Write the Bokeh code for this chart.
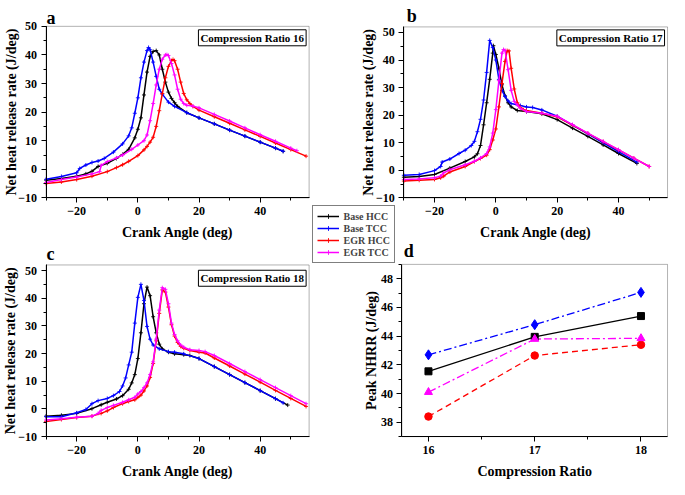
import math
from bokeh.plotting import figure
from bokeh.models import (Range1d, LinearAxis, SingleIntervalTicker, FixedTicker,
                          BoxAnnotation, Label, Legend, LegendItem)
from bokeh.embed import file_html
from bokeh.resources import INLINE

# ---------------- data ----------------
series_names = ["Base HCC", "Base TCC", "EGR HCC", "EGR TCC"]

# Panel a : Compression Ratio 16
a_bh_x = [-30, -25, -20, -17, -15, -13, -10, -7, -5, -3, -1, 0, 1, 2, 3, 4, 5, 6, 7, 8, 9, 10, 11, 12, 13, 16, 20, 25, 30, 35, 40, 45, 47.5]
a_bh_y = [-3.8, -3.2, -2.4, -1.6, -0.7, 1.0, 2.1, 3.8, 5.2, 7.0, 11.0, 14.0, 18.0, 26.0, 34.0, 39.5, 41.2, 41.5, 40.0, 35.0, 30.5, 27.0, 24.8, 23.3, 22.0, 19.8, 18.0, 15.9, 13.7, 11.6, 9.5, 7.4, 6.3]
a_bt_x = [-30, -25, -20, -19, -17, -15, -13, -11, -8, -5, -3, -2, -1, 0, 1, 2, 3, 3.5, 4, 5, 6, 7, 8, 10, 12, 16, 20, 25, 30, 35, 40, 45, 47.5]
a_bt_y = [-3.5, -2.5, -1.2, 0.3, 1.5, 2.4, 2.9, 3.8, 6.0, 8.9, 11.7, 14.5, 19.6, 25.0, 32.0, 37.5, 41.5, 42.6, 41.8, 37.5, 32.5, 28.0, 26.3, 23.5, 22.0, 19.8, 18.0, 15.9, 13.7, 11.6, 9.5, 7.4, 6.3]
a_eh_x = [-30, -25, -20, -15, -10, -7, -5, -3, 0, 2, 3, 4, 5, 6, 7, 8, 9, 10, 11, 11.5, 12, 13, 14, 15, 16, 17, 18, 20, 25, 30, 35, 40, 45, 50, 55]
a_eh_y = [-5.0, -4.4, -3.6, -2.4, -0.8, 0.6, 1.6, 2.8, 4.8, 6.8, 8.0, 9.5, 11.2, 15.0, 20.5, 26.5, 32.0, 36.0, 38.0, 38.4, 38.0, 35.0, 30.5, 26.5, 24.3, 23.0, 22.0, 20.7, 18.4, 16.1, 13.8, 11.5, 9.2, 6.9, 4.6]
a_et_x = [-30, -25, -20, -15, -12.5, -12, -10, -7, -5, -2, 0, 2, 3, 4, 5, 6, 7, 8, 9, 9.5, 10, 11, 12, 13, 14, 15, 16, 18, 20, 25, 30, 35, 40, 45, 50, 52]
a_et_y = [-4.6, -3.6, -2.7, -1.6, -0.8, 1.4, 2.7, 4.0, 5.0, 7.0, 8.5, 10.0, 12.0, 17.0, 23.0, 29.5, 35.0, 38.5, 40.0, 40.1, 39.8, 37.0, 33.0, 28.0, 24.5, 23.0, 22.4, 22.1, 21.5, 19.2, 16.9, 14.5, 12.1, 9.8, 7.4, 6.5]

# Panel b : Compression Ratio 17
b_bh_x = [-30, -25, -20, -15, -10, -7, -6, -5, -4, -3, -2, -1, -0.8, 0, 1, 2, 3, 4, 5, 7, 10, 15, 20, 25, 30, 35, 40, 46]
b_bh_y = [-2.5, -2.2, -1.5, 0.8, 3.2, 4.9, 6.0, 9.0, 16.5, 24.5, 33.0, 42.5, 45.2, 42.0, 37.0, 31.0, 27.0, 24.5, 23.0, 21.7, 21.3, 20.5, 18.4, 15.3, 12.3, 9.2, 6.1, 2.5]
b_bt_x = [-30, -25, -20, -18, -17.5, -15, -12, -10, -8, -7, -6, -5, -4, -3, -2, -1, 0, 1, 2, 3, 4, 5, 8, 10, 12, 15, 20, 25, 30, 35, 40, 46]
b_bt_y = [-1.8, -1.5, -0.1, 1.4, 3.0, 4.1, 6.1, 7.3, 9.0, 10.5, 14.0, 18.5, 25.5, 35.5, 47.1, 44.5, 40.0, 33.0, 29.0, 26.8, 25.2, 24.2, 23.5, 23.0, 22.8, 21.9, 19.6, 16.4, 13.2, 10.0, 6.8, 3.0]
b_eh_x = [-30, -25, -20, -18, -17, -15, -10, -7, -5, -3, -2, -1, 0, 1, 2, 3, 3.7, 4.3, 5, 6, 7, 8, 9, 10, 15, 20, 25, 30, 35, 40, 45, 50]
b_eh_y = [-3.9, -3.6, -3.3, -2.7, -2.1, -0.6, 1.4, 3.2, 4.3, 5.5, 7.5, 11.0, 15.0, 23.0, 31.5, 39.5, 43.4, 43.3, 37.0, 29.5, 24.5, 22.8, 22.0, 21.7, 20.7, 19.4, 16.4, 13.4, 10.4, 7.4, 4.4, 1.4]
b_et_x = [-30, -25, -20, -18, -17, -15, -10, -7, -5, -3, -2, -1, 0, 1, 2, 2.5, 3, 4, 5, 6, 7, 8, 10, 15, 20, 25, 30, 35, 40, 45, 50]
b_et_y = [-3.3, -3.1, -2.7, -2.1, -0.9, 0.2, 2.0, 3.3, 4.5, 6.1, 8.5, 13.5, 22.0, 32.5, 42.5, 43.8, 43.5, 36.5, 29.0, 25.0, 23.7, 22.5, 21.3, 20.7, 19.6, 16.6, 13.5, 10.5, 7.5, 4.4, 1.4]

# Panel c : Compression Ratio 18
c_bh_x = [-30, -25, -20, -15, -12, -10, -7, -5, -3, -2, -1, 0, 1, 2, 3, 4, 5, 6, 7, 8, 10, 12, 15, 17, 20, 25, 30, 35, 40, 45, 49]
c_bh_y = [-2.6, -2.3, -1.6, 0.1, 1.5, 2.4, 3.6, 4.8, 7.1, 9.4, 12.4, 18.2, 27.5, 38.0, 44.0, 40.9, 33.3, 27.5, 23.4, 21.7, 20.5, 19.9, 19.6, 19.3, 18.2, 15.3, 12.4, 9.5, 6.6, 3.7, 1.4]
c_bt_x = [-30, -25, -20, -17, -15, -13, -10, -8, -6, -5, -4, -3, -2, -1, 0, 1, 2, 3, 4, 5, 7, 10, 12, 15, 20, 25, 30, 35, 40, 45, 47.5]
c_bt_y = [-2.8, -2.8, -1.4, -0.2, 1.9, 3.0, 3.8, 4.8, 6.3, 8.3, 11.2, 15.9, 20.5, 31.0, 40.3, 45.0, 39.2, 29.8, 25.2, 23.1, 21.7, 20.7, 20.5, 19.9, 18.2, 15.3, 12.4, 9.5, 6.6, 3.7, 2.2]
c_eh_x = [-30, -25, -20, -15, -12, -10, -8, -5, -3, -1, 0, 1, 2, 3, 4, 5, 6, 7, 8, 9, 10, 11, 12, 13, 14, 15, 17, 20, 22, 25, 30, 35, 40, 45, 50, 55]
c_eh_y = [-4.5, -3.8, -3.1, -2.6, -1.6, -0.7, 0.5, 1.9, 2.7, 3.3, 4.2, 5.0, 6.5, 8.3, 11.4, 16.4, 24.6, 34.5, 43.0, 42.2, 36.8, 30.4, 26.3, 24.0, 22.6, 21.9, 21.1, 20.5, 20.2, 18.4, 15.5, 12.6, 9.7, 6.7, 3.8, 0.9]
c_et_x = [-30, -25, -20, -15, -13, -12, -10, -8, -5, -3, -1, 0, 1, 2, 3, 4, 5, 6, 7, 8, 9, 10, 11, 12, 13, 14, 15, 17, 20, 22, 25, 30, 35, 40, 45, 50, 55]
c_et_y = [-4.0, -3.5, -3.0, -2.6, -1.6, -0.5, 0.5, 1.3, 2.4, 3.3, 4.2, 5.4, 6.3, 7.7, 9.4, 12.4, 17.0, 25.2, 35.7, 43.8, 43.2, 38.0, 31.0, 26.9, 24.6, 23.1, 22.3, 21.4, 21.1, 20.7, 19.3, 16.4, 13.5, 10.6, 7.7, 4.8, 1.9]

# Panel d : peak NHRR vs compression ratio
cr = [16, 17, 18]
peak_base_hcc = [41.55, 43.95, 45.4]
peak_base_tcc = [42.7, 44.8, 47.05]
peak_egr_hcc = [38.4, 42.65, 43.4]
peak_egr_tcc = [40.1, 43.8, 43.85]

# ---------------- styling / layout ----------------
COLORS = ["#000000", "#0000ff", "#ff0000", "#ff00ff"]
FONT = "Liberation Serif"
W, H = 669, 479
KX, KY = W / 685.0, H / 495.0

p = figure(width=W, height=H, x_range=(0, 1), y_range=(0, 1),
           x_axis_type=None, y_axis_type=None, min_border=0, title=None,
           toolbar_location=None, output_backend="svg")
p.outline_line_color = None
p.background_fill_color = "white"
p.border_fill_color = "white"

panels = [
    dict(key="a", box=(46.7, 316.0, 26.7, 204.0), xlim=(-30, 56), ylim=(-10, 50),
         title="Compression Ratio 16", boff=1.5,
         curves=[(a_bh_x, a_bh_y), (a_bt_x, a_bt_y), (a_eh_x, a_eh_y), (a_et_x, a_et_y)],
         letter=(47, 18), ylab_x=11, xlab_y=240),
    dict(key="b", box=(413.0, 683.0, 27.3, 204.0), xlim=(-30, 56), ylim=(-10, 52),
         title="Compression Ratio 17", boff=1.0,
         curves=[(b_bh_x, b_bh_y), (b_bt_x, b_bt_y), (b_eh_x, b_eh_y), (b_et_x, b_et_y)],
         letter=(416, 16), ylab_x=377, xlab_y=240),
    dict(key="c", box=(46.7, 316.0, 273.3, 450.7), xlim=(-30, 56), ylim=(-10, 52),
         title="Compression Ratio 18", boff=3.4,
         curves=[(c_bh_x, c_bh_y), (c_bt_x, c_bt_y), (c_eh_x, c_eh_y), (c_et_x, c_et_y)],
         letter=(47, 262), ylab_x=10, xlab_y=487),
    dict(key="d", box=(411.0, 683.0, 272.7, 450.7), xlim=(15.75, 18.25), ylim=(37, 49),
         title=None, letter=(413, 259), ylab_x=380, xlab_y=487),
]

xr, yr = {}, {}
geo = {}
for cfg in panels:
    k = cfg["key"]
    x0, x1, y0, y1 = cfg["box"]
    cx0, cx1, cy0, cy1 = x0 * KX, x1 * KX, y0 * KY, y1 * KY
    (xa, xb), (ya, yb) = cfg["xlim"], cfg["ylim"]
    sxs = (xb - xa) / (cx1 - cx0)
    xs = xa - cx0 * sxs
    xr["x" + k] = Range1d(xs, xs + W * sxs)
    b0, b1 = H - cy1, H - cy0
    sys_ = (yb - ya) / (b1 - b0)
    ys = ya - b0 * sys_
    yr["y" + k] = Range1d(ys, ys + H * sys_)
    geo[k] = (cx0, cx1, cy0, cy1)
p.extra_x_ranges = xr
p.extra_y_ranges = yr


def style_axis(ax):
    ax.axis_line_color = "black"
    ax.axis_line_width = 1
    ax.major_tick_out = 5
    ax.major_tick_in = 0
    ax.minor_tick_out = 3
    ax.minor_tick_in = 0
    ax.major_tick_line_color = "black"
    ax.minor_tick_line_color = "black"
    ax.major_label_text_font = FONT
    ax.major_label_text_font_style = "bold"
    ax.major_label_text_font_size = "12px"
    ax.major_label_text_color = "black"
    ax.major_label_standoff = 4


def txt(text, x, y, size, angle=0.0, align="center", baseline="middle"):
    lab = Label(x=x, y=H - y, x_units="screen", y_units="screen", text=text,
                text_font=FONT, text_font_style="bold", text_font_size=size,
                text_color="black", angle=angle, text_align=align, text_baseline=baseline)
    p.add_layout(lab)
    return lab


legend_renderers = None
for cfg in panels:
    k = cfg["key"]
    xn, yn = "x" + k, "y" + k
    (xa, xb), (ya, yb) = cfg["xlim"], cfg["ylim"]
    cx0, cx1, cy0, cy1 = geo[k]

    if k == "d":
        xt = FixedTicker(ticks=[16, 17, 18], minor_ticks=[16.5, 17.5])
        yt = SingleIntervalTicker(interval=2, num_minor_ticks=2)
    else:
        xt = SingleIntervalTicker(interval=20, num_minor_ticks=2)
        yt = SingleIntervalTicker(interval=10, num_minor_ticks=2)

    xax = LinearAxis(x_range_name=xn, y_range_name=yn, fixed_location=ya,
                     bounds=(xa, xb), ticker=xt)
    style_axis(xax)
    p.add_layout(xax, "below")
    yax = LinearAxis(x_range_name=xn, y_range_name=yn, fixed_location=xa,
                     bounds=(ya, yb), ticker=yt)
    style_axis(yax)
    p.add_layout(yax, "left")

    frame = BoxAnnotation(left=xa, right=xb, bottom=ya, top=yb,
                          x_range_name=xn, y_range_name=yn,
                          fill_color=None, fill_alpha=0, line_color="black",
                          line_width=1, level="underlay")
    p.add_layout(frame)

    if k != "d":
        rends = []
        for (xs_, ys_), col in zip(cfg["curves"], COLORS):
            ln = p.line(xs_, ys_, x_range_name=xn, y_range_name=yn,
                        line_color=col, line_width=1.5)
            sc = p.scatter(xs_, ys_, x_range_name=xn, y_range_name=yn, marker="cross",
                           size=4, line_color=col, line_width=0.9)
            rends.append((ln, sc))
        if legend_renderers is None:
            legend_renderers = rends
        pad = 2
        bl = Label(x=cx1 - pad - 1, y=H - (cy0 + cfg["boff"] * KY + pad),
                   x_units="screen", y_units="screen", text=cfg["title"],
                   text_font=FONT, text_font_style="bold", text_font_size="11px",
                   text_color="black", text_align="right", text_baseline="top",
                   background_fill_color="white", border_line_color="black",
                   border_line_width=1, padding=pad)
        p.add_layout(bl)
        ylabel = "Net heat release rate (J/deg)"
        xlabel = "Crank Angle (deg)"
    else:
        specs = [
            (peak_base_hcc, COLORS[0], "square", "solid", 7),
            (peak_base_tcc, COLORS[1], "diamond", "8 3 2 3", 10),
            (peak_egr_hcc, COLORS[2], "circle", "6 4", 7.5),
            (peak_egr_tcc, COLORS[3], "triangle", "8 3 2 3", 8),
        ]
        for vals, col, mk, dash, sz in specs:
            p.line(cr, vals, x_range_name=xn, y_range_name=yn, line_color=col,
                   line_width=1.3, line_dash=dash)
            p.scatter(cr, vals, x_range_name=xn, y_range_name=yn, marker=mk,
                      size=sz, fill_color=col, line_color=col)
        ylabel = "Peak NHRR (J/deg)"
        xlabel = "Compression Ratio"

    txt(ylabel, cfg["ylab_x"] * KX, (cfg["box"][2] + cfg["box"][3]) / 2 * KY, "14px",
        angle=math.pi / 2)
    txt(xlabel, (cx0 + cx1) / 2, cfg["xlab_y"] * KY, "14px")
    lx, ly = cfg["letter"]
    txt(k, lx * KX, ly * KY, "18px", align="left", baseline="alphabetic")

items = [LegendItem(label=n, renderers=[ln, sc]) for n, (ln, sc) in zip(series_names, legend_renderers)]
legend = Legend(items=items, location=(319 * KX, H - 272 * KY),
                border_line_color="black", border_line_width=1,
                background_fill_color="white", background_fill_alpha=1,
                label_text_font=FONT, label_text_font_style="bold",
                label_text_font_size="10px", glyph_width=22, glyph_height=12,
                label_height=12, spacing=0, padding=4, margin=0, label_standoff=5)
p.add_layout(legend, "center")

open("out.html", "w").write(file_html(p, INLINE))
